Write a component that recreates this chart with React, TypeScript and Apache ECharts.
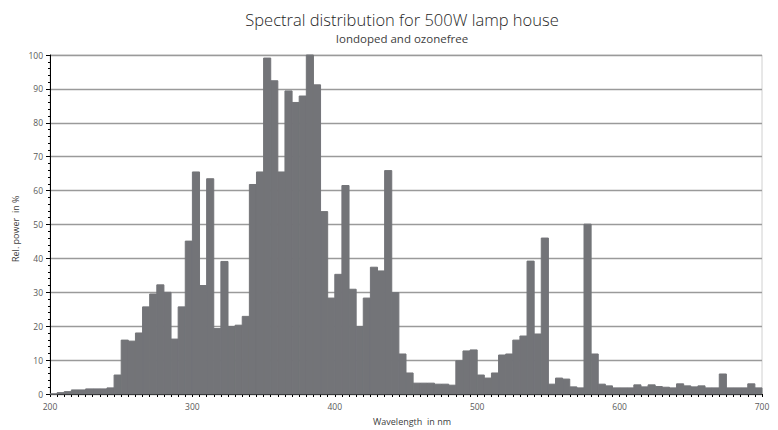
import React, { useEffect, useRef } from "react";
import * as echarts from "echarts";

// start wavelength (nm) of each 5 nm bin
const binStarts = [
  200, 205, 210, 215, 220, 225, 230, 235, 240, 245,
  250, 255, 260, 265, 270, 275, 280, 285, 290, 295,
  300, 305, 310, 315, 320, 325, 330, 335, 340, 345,
  350, 355, 360, 365, 370, 375, 380, 385, 390, 395,
  400, 405, 410, 415, 420, 425, 430, 435, 440, 445,
  450, 455, 460, 465, 470, 475, 480, 485, 490, 495,
  500, 505, 510, 515, 520, 525, 530, 535, 540, 545,
  550, 555, 560, 565, 570, 575, 580, 585, 590, 595,
  600, 605, 610, 615, 620, 625, 630, 635, 640, 645,
  650, 655, 660, 665, 670, 675, 680, 685, 690, 695,
];
const binWidth = 5;

// relative power in %
const relPower = [
  0, 0.4, 0.7, 1.2, 1.2, 1.5, 1.5, 1.5, 1.8, 5.6,
  15.9, 15.6, 18, 25.7, 29.5, 32.2, 30, 16.2, 25.7, 45.1,
  65.5, 32, 63.5, 19.3, 39.1, 19.9, 20.3, 22.9, 61.8, 65.5,
  99.1, 92.4, 65.5, 89.4, 86, 87.9, 100, 91.2, 53.8, 28.3,
  35.3, 61.5, 30.9, 19.9, 28.3, 37.4, 36.3, 65.9, 29.9, 11.8,
  6.2, 3.2, 3.2, 3.2, 2.9, 2.9, 2.6, 9.8, 12.7, 13,
  5.6, 4.7, 6.2, 11.5, 11.8, 15.9, 17.1, 39.2, 17.7, 46,
  2.9, 4.7, 4.4, 2.1, 1.8, 50.1, 11.8, 2.9, 2.4, 1.8,
  1.8, 1.8, 2.7, 2.1, 2.7, 2.2, 2.0, 1.8, 3.0, 2.4,
  2.1, 2.4, 1.8, 1.8, 5.9, 1.8, 1.8, 1.8, 3.0, 1.8,
];

const titleText = "Spectral distribution for 500W lamp house";
const subtitleText = "Iondoped and ozonefree";
const xName = "Wavelength  in nm";
const yName = "Rel. power  in %";

const FONT = "'Open Sans', 'Noto Sans', sans-serif";

export default function App() {
  const ref = useRef<HTMLDivElement>(null);
  useEffect(() => {
    document.body.style.margin = "0";
    if (!ref.current) return;
    const chart = echarts.init(ref.current, null, { renderer: "svg" });
    const data = binStarts.map((s, i) => [s, s + binWidth, relPower[i]]);
    chart.setOption({
      animation: false,
      backgroundColor: "#ffffff",
      title: {
        text: titleText,
        subtext: subtitleText,
        left: 397,
        textAlign: "center",
        top: 6,
        itemGap: 4,
        textStyle: { fontFamily: FONT, fontSize: 16.5, fontWeight: 300, color: "#262626" },
        subtextStyle: { fontFamily: FONT, fontSize: 11.5, color: "#404040" },
      },
      grid: {
        left: 50,
        right: 16,
        top: 55,
        bottom: 36,
        show: true,
        borderColor: "#d0d0d0",
        borderWidth: 1,
      },
      xAxis: {
        type: "value",
        min: 200,
        max: 700,
        interval: 100,
        axisLine: { show: true, lineStyle: { color: "#000", width: 1 } },
        axisTick: { show: true, length: 3, lineStyle: { color: "#000" } },
        minorTick: { show: true, splitNumber: 20, length: 3, lineStyle: { color: "#000" } },
        splitLine: { show: false },
        axisLabel: { fontFamily: FONT, fontSize: 8.5, color: "#595959", margin: 8 },
      },
      yAxis: {
        type: "value",
        min: 0,
        max: 100,
        interval: 10,
        axisLine: { show: true, lineStyle: { color: "#000", width: 1 } },
        axisTick: { show: true, length: 4, lineStyle: { color: "#000" } },
        minorTick: { show: true, splitNumber: 5, length: 2, lineStyle: { color: "#000" } },
        splitLine: { show: true, lineStyle: { color: "#9a9a9a", width: 1.3 } },
        axisLabel: { fontFamily: FONT, fontSize: 8.5, color: "#595959", margin: 7 },
      },
      graphic: [
        {
          type: "text",
          left: 373,
          top: 417,
          style: { text: xName, fontFamily: FONT, fontSize: 9, fill: "#404040" },
        },
        {
          type: "text",
          x: 11,
          y: 262,
          rotation: Math.PI / 2,
          style: { text: yName, fontFamily: FONT, fontSize: 9, fill: "#404040" },
        },
      ],
      series: [
        {
          type: "custom",
          data,
          encode: { x: [0, 1], y: 2 },
          renderItem: (params: any, api: any) => {
            const p0 = api.coord([api.value(0), api.value(2)]);
            const p1 = api.coord([api.value(1), 0]);
            return {
              type: "rect",
              shape: { x: p0[0], y: p0[1], width: p1[0] - p0[0], height: p1[1] - p0[1] },
              style: { fill: "#737478", stroke: "#737478", lineWidth: 1 },
            };
          },
          z: 3,
        },
      ],
    });
    return () => chart.dispose();
  }, []);
  return <div ref={ref} style={{ width: 778, height: 430 }} />;
}
